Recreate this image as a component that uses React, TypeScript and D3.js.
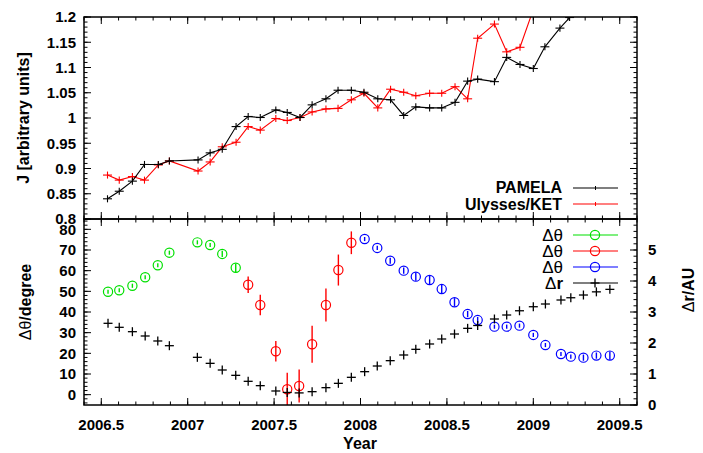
import * as d3 from 'd3';

// top panel: proton flux, J
const pamelaYears = [2006.536, 2006.604, 2006.68, 2006.75, 2006.83, 2006.894, 2007.06, 2007.13, 2007.2, 2007.28, 2007.35, 2007.42, 2007.51, 2007.576, 2007.65, 2007.72, 2007.8, 2007.87, 2007.947, 2008.02, 2008.1, 2008.174, 2008.25, 2008.32, 2008.4, 2008.47, 2008.547, 2008.62, 2008.678, 2008.775, 2008.846, 2008.923, 2009.0, 2009.067, 2009.154, 2009.21];
const pamelaJ = [0.84, 0.855, 0.875, 0.908, 0.908, 0.915, 0.917, 0.931, 0.938, 0.983, 1.003, 1.001, 1.016, 1.011, 1.001, 1.026, 1.038, 1.055, 1.055, 1.051, 1.038, 1.036, 1.005, 1.022, 1.02, 1.02, 1.031, 1.073, 1.077, 1.072, 1.12, 1.106, 1.098, 1.141, 1.178, 1.199];
const ketYears = [2006.536, 2006.604, 2006.68, 2006.75, 2006.83, 2006.894, 2007.06, 2007.13, 2007.2, 2007.28, 2007.35, 2007.42, 2007.51, 2007.576, 2007.65, 2007.72, 2007.8, 2007.87, 2007.947, 2008.02, 2008.1, 2008.174, 2008.25, 2008.32, 2008.4, 2008.47, 2008.547, 2008.62, 2008.678, 2008.775, 2008.846, 2008.923, 2009.0];
const ketJ = [0.887, 0.877, 0.884, 0.877, 0.907, 0.915, 0.895, 0.913, 0.943, 0.952, 0.983, 0.976, 0.999, 0.995, 1.001, 1.012, 1.018, 1.019, 1.036, 1.049, 1.02, 1.057, 1.051, 1.044, 1.049, 1.049, 1.062, 1.038, 1.158, 1.186, 1.131, 1.14, 1.215];

// bottom panel: angular separation (three groups) and radial distance
const greenYears = [2006.539, 2006.604, 2006.68, 2006.754, 2006.827, 2006.894, 2007.056, 2007.13, 2007.2, 2007.278];
const greenTheta = [49.8, 50.5, 52.7, 56.8, 62.6, 68.7, 73.7, 72.4, 68.1, 61.4];
const greenErr = [1, 1, 1, 1, 1, 1, 1, 1, 1.5, 2];
const redYears = [2007.35, 2007.42, 2007.51, 2007.576, 2007.645, 2007.72, 2007.8, 2007.872, 2007.947];
const redTheta = [53.2, 43.4, 21.0, 2.6, 4.2, 24.4, 43.4, 60.3, 73.5];
const redErr = [4, 5, 5, 8, 8, 9, 8, 7.5, 5.5];
const blueYears = [2008.024, 2008.097, 2008.172, 2008.25, 2008.32, 2008.4, 2008.47, 2008.544, 2008.62, 2008.678, 2008.775, 2008.846, 2008.92, 2009.0, 2009.07, 2009.16, 2009.217, 2009.29, 2009.365, 2009.443];
const blueTheta = [75.3, 71.0, 64.8, 60.0, 57.1, 55.5, 51.1, 44.7, 39.0, 36.1, 32.9, 32.9, 33.4, 28.9, 24.0, 19.7, 18.4, 17.9, 18.9, 18.9];
const blueErr = [1, 1, 1.5, 1.5, 2, 2, 2, 2, 1.5, 1.5, 1, 1, 1, 1, 1, 1, 1, 1.5, 1.5, 2];
const drYears = [2006.539, 2006.604, 2006.68, 2006.754, 2006.827, 2006.894, 2007.056, 2007.13, 2007.2, 2007.278, 2007.35, 2007.42, 2007.51, 2007.576, 2007.645, 2007.72, 2007.8, 2007.872, 2007.947, 2008.024, 2008.097, 2008.172, 2008.25, 2008.32, 2008.4, 2008.47, 2008.544, 2008.62, 2008.678, 2008.775, 2008.846, 2008.92, 2009.0, 2009.07, 2009.16, 2009.217, 2009.29, 2009.365, 2009.443];
const drAU = [2.635, 2.506, 2.365, 2.226, 2.065, 1.913, 1.538, 1.344, 1.129, 0.957, 0.764, 0.624, 0.452, 0.405, 0.39, 0.43, 0.559, 0.699, 0.893, 1.075, 1.258, 1.43, 1.613, 1.796, 1.968, 2.129, 2.29, 2.473, 2.565, 2.774, 2.903, 3.04, 3.17, 3.258, 3.387, 3.46, 3.548, 3.65, 3.73];

const xTicks = [2006.5, 2007, 2007.5, 2008, 2008.5, 2009, 2009.5];
const jTicks = [0.8, 0.85, 0.9, 0.95, 1, 1.05, 1.1, 1.15, 1.2];
const thetaTicks = [0, 10, 20, 30, 40, 50, 60, 70, 80];
const rTicks = [0, 1, 2, 3, 4, 5];

const W = 703;
const H = 453;
const left = 84;
const right = 637;
const top = 17;
const mid = 219;
const bottom = 405;

const GREEN = '#00e000';
const RED = '#ff0000';
const BLUE = '#0000ff';
const FONT = '"Liberation Sans", Arial, sans-serif';

const x = d3.scaleLinear([2006.4, 2009.6], [left, right]);
const yJ = d3.scaleLinear([0.8, 1.2], [mid, top]);
const yT = d3.scaleLinear([-5, 85], [bottom, mid]);
const yR = d3.scaleLinear([0, 6], [bottom, mid]);

const MAJ = 7;
const MIN = 3.5;

const xMinor = d3.range(2006.4, 2009.61, 0.1);
const jMinor = d3.range(0.8, 1.2001, 0.01);
const tMinor = d3.range(-4, 85, 2);
const rMinor = d3.range(0, 6.01, 0.2);

const tickLines = (key: string, vals: number[], len: number, orient: 'h' | 'v', pos: (v: number) => number, base: number, dir: number) =>
  vals.map((v, i) =>
    orient === 'v' ? (
      <line key={`${key}${i}`} x1={pos(v)} x2={pos(v)} y1={base} y2={base + dir * len} stroke="#000" strokeWidth={1} />
    ) : (
      <line key={`${key}${i}`} x1={base} x2={base + dir * len} y1={pos(v)} y2={pos(v)} stroke="#000" strokeWidth={1} />
    )
  );

const fmtJ = (v: number) => (v === 1 ? '1' : String(+v.toFixed(2)));

const Plus = ({ cx, cy, s, color }: { cx: number; cy: number; s: number; color: string }) => (
  <g stroke={color} strokeWidth={1.3}>
    <line x1={cx - s} x2={cx + s} y1={cy} y2={cy} />
    <line x1={cx} x2={cx} y1={cy - s} y2={cy + s} />
  </g>
);

const FluxSeries = ({ years, vals, color }: { years: number[]; vals: number[]; color: string }) => {
  const pts = years.map((yr, i) => [yr, vals[i]] as [number, number]);
  const line = d3.line<[number, number]>().x((d) => x(d[0])).y((d) => yJ(d[1]));
  return (
    <g>
      <path d={line(pts) ?? ''} fill="none" stroke={color} strokeWidth={1.1} />
      {pts.map((d, i) => (
        <g key={i} stroke={color} strokeWidth={1.1}>
          <line x1={x(d[0] - 0.026)} x2={x(d[0] + 0.026)} y1={yJ(d[1])} y2={yJ(d[1])} />
          <line x1={x(d[0])} x2={x(d[0])} y1={yJ(d[1] - 0.007)} y2={yJ(d[1] + 0.007)} />
        </g>
      ))}
    </g>
  );
};

const ThetaSeries = ({ years, vals, errs, color }: { years: number[]; vals: number[]; errs: number[]; color: string }) => (
  <g stroke={color} fill="none" strokeWidth={1.2}>
    {years.map((yr, i) => (
      <g key={i}>
        <line x1={x(yr)} x2={x(yr)} y1={yT(vals[i] - errs[i])} y2={yT(vals[i] + errs[i])} strokeWidth={1.4} />
        <circle cx={x(yr)} cy={yT(vals[i])} r={4.6} />
      </g>
    ))}
  </g>
);

export default function App() {
  const labelStyle = { fontFamily: FONT, fontWeight: 700, fontSize: 15 } as const;
  return (
    <svg width={W} height={H} style={{ position: 'absolute', left: 0, top: 0, background: '#fff' }}>
      <defs>
        <clipPath id="clipTop">
          <rect x={left} y={top} width={right - left} height={mid - top} />
        </clipPath>
        <clipPath id="clipBot">
          <rect x={left} y={mid} width={right - left} height={bottom - mid} />
        </clipPath>
      </defs>

      {/* ticks, top panel */}
      {tickLines('xt1', xTicks, MAJ, 'v', x, top, 1)}
      {tickLines('xt2', xTicks, MAJ, 'v', x, mid, -1)}
      {tickLines('xm1', xMinor, MIN, 'v', x, top, 1)}
      {tickLines('xm2', xMinor, MIN, 'v', x, mid, -1)}
      {tickLines('jt1', jTicks, MAJ, 'h', yJ, left, 1)}
      {tickLines('jt2', jTicks, MAJ, 'h', yJ, right, -1)}
      {tickLines('jm1', jMinor, MIN, 'h', yJ, left, 1)}
      {tickLines('jm2', jMinor, MIN, 'h', yJ, right, -1)}

      {/* ticks, bottom panel */}
      {tickLines('xb1', xTicks, MAJ, 'v', x, mid, 1)}
      {tickLines('xb2', xTicks, MAJ, 'v', x, bottom, -1)}
      {tickLines('xbm1', xMinor, MIN, 'v', x, mid, 1)}
      {tickLines('xbm2', xMinor, MIN, 'v', x, bottom, -1)}
      {tickLines('tt', thetaTicks, MAJ, 'h', yT, left, 1)}
      {tickLines('tm', tMinor, MIN, 'h', yT, left, 1)}
      {tickLines('rt', rTicks, MAJ, 'h', yR, right, -1)}
      {tickLines('rm', rMinor, MIN, 'h', yR, right, -1)}

      <g clipPath="url(#clipTop)">
        <FluxSeries years={ketYears} vals={ketJ} color={RED} />
        <FluxSeries years={pamelaYears} vals={pamelaJ} color="#000" />
      </g>

      <g clipPath="url(#clipBot)">
        <ThetaSeries years={greenYears} vals={greenTheta} errs={greenErr} color={GREEN} />
        <ThetaSeries years={redYears} vals={redTheta} errs={redErr} color={RED} />
        <ThetaSeries years={blueYears} vals={blueTheta} errs={blueErr} color={BLUE} />
        {drYears.map((yr, i) => (
          <Plus key={i} cx={x(yr)} cy={yR(drAU[i])} s={4.5} color="#000" />
        ))}
      </g>

      {/* frames */}
      <rect x={left} y={top} width={right - left} height={mid - top} fill="none" stroke="#000" strokeWidth={1.5} />
      <rect x={left} y={mid} width={right - left} height={bottom - mid} fill="none" stroke="#000" strokeWidth={1.5} />

      {/* tick labels */}
      <g style={labelStyle}>
        {jTicks.map((v) => (
          <text key={`jl${v}`} x={left - 8} y={yJ(v)} dy="0.36em" textAnchor="end">
            {fmtJ(v)}
          </text>
        ))}
        {thetaTicks.map((v) => (
          <text key={`tl${v}`} x={left - 8} y={yT(v)} dy="0.36em" textAnchor="end">
            {v}
          </text>
        ))}
        {rTicks.map((v) => (
          <text key={`rl${v}`} x={right + 11} y={yR(v)} dy="0.36em" textAnchor="start">
            {v}
          </text>
        ))}
        {xTicks.map((v) => (
          <text key={`xl${v}`} x={x(v)} y={430} textAnchor="middle">
            {v}
          </text>
        ))}
      </g>

      {/* axis titles */}
      <text x={360} y={449} textAnchor="middle" style={{ ...labelStyle, fontSize: 16 }}>
        Year
      </text>
      <text transform="translate(29,118) rotate(-90)" textAnchor="middle" style={{ ...labelStyle, fontSize: 16 }}>
        J [arbitrary units]
      </text>
      <text transform="translate(31,302) rotate(-90)" textAnchor="middle" style={{ fontFamily: FONT, fontSize: 16 }}>
        Δθ<tspan fontWeight={700}>/degree</tspan>
      </text>
      <text transform="translate(694,290) rotate(-90)" textAnchor="middle" style={{ fontFamily: FONT, fontSize: 16 }}>
        Δ<tspan fontWeight={700}>r/AU</tspan>
      </text>

      {/* legend, top panel */}
      <g style={{ ...labelStyle, fontSize: 16 }}>
        <text x={562} y={193} textAnchor="end">PAMELA</text>
        <text x={562} y={210} textAnchor="end">Ulysses/KET</text>
      </g>
      <line x1={573} x2={618} y1={188} y2={188} stroke="#000" strokeWidth={1.1} />
      <line x1={595.5} x2={595.5} y1={186} y2={190} stroke="#000" strokeWidth={1} />
      <line x1={573} x2={618} y1={204} y2={204} stroke={RED} strokeWidth={1.1} />
      <line x1={595.5} x2={595.5} y1={202} y2={206} stroke={RED} strokeWidth={1} />

      {/* legend, bottom panel */}
      {[GREEN, RED, BLUE].map((c, i) => (
        <g key={c}>
          <text x={563} y={241 + i * 16} textAnchor="end" style={{ fontFamily: FONT, fontSize: 17 }}>
            Δθ
          </text>
          <line x1={573} x2={618} y1={235 + i * 16} y2={235 + i * 16} stroke={c} strokeWidth={1.2} />
          <circle cx={595} cy={235 + i * 16} r={4.6} fill="none" stroke={c} strokeWidth={1.2} />
        </g>
      ))}
      <text x={563} y={289} textAnchor="end" style={{ fontFamily: FONT, fontSize: 17 }}>
        Δ<tspan fontWeight={700}>r</tspan>
      </text>
      <line x1={573} x2={618} y1={283} y2={283} stroke="#000" strokeWidth={1.2} />
      <Plus cx={595} cy={283} s={4.5} color="#000" />
    </svg>
  );
}
